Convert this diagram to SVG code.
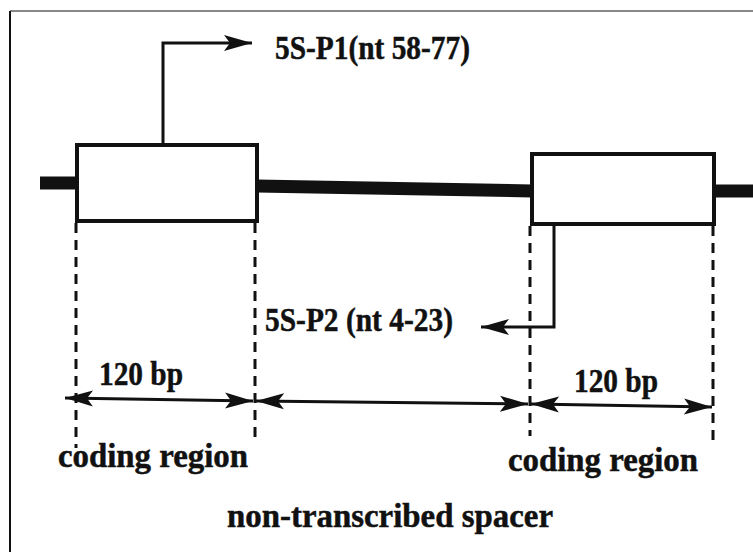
<svg xmlns="http://www.w3.org/2000/svg" width="753" height="552" viewBox="0 0 753 552">
  <style>
    .lbl { font-family: "Liberation Serif", "Times New Roman", serif; font-weight: bold; font-size: 34px; fill: #111; stroke: #111; stroke-width: 0.5; }
    .box { fill: #fff; stroke: #111; stroke-width: 4; }
    .dna { stroke: #111; stroke-width: 13; fill: none; }
    .dash { stroke: #111; stroke-width: 3; stroke-dasharray: 10 7; fill: none; }
    .arr { stroke: #111; stroke-width: 3; fill: none; }
  </style>
  <defs>
    <marker id="ah" markerUnits="userSpaceOnUse" markerWidth="30" markerHeight="20" viewBox="0 -10 30 20" refX="28" refY="0" orient="auto-start-reverse">
      <path d="M0,-8 L28,0 L0,8 L6,0 z" fill="#111"/>
    </marker>
  </defs>
  <rect x="0" y="0" width="753" height="552" fill="#fff"/>
  <g id="frame">
    <line x1="10" y1="11" x2="753" y2="11" stroke="#888" stroke-width="2"/>
    <line x1="10" y1="11" x2="10" y2="552" stroke="#111" stroke-width="2"/>
  </g>
  <g id="dna-strand">
    <line class="dna" x1="40" y1="183" x2="79" y2="183"/>
    <line class="dna" x1="257" y1="186" x2="532" y2="191"/>
    <line class="dna" x1="714" y1="191" x2="753" y2="191"/>
  </g>
  <g id="coding-box-1">
    <rect class="box" x="77" y="145" width="180" height="76"/>
  </g>
  <g id="coding-box-2">
    <rect class="box" x="532" y="154" width="182" height="70"/>
  </g>
  <g id="connectors">
    <line class="dash" x1="76" y1="223" x2="76" y2="448"/>
    <line class="dash" x1="255" y1="223" x2="255" y2="440"/>
    <line class="dash" x1="530" y1="226" x2="530" y2="436"/>
    <line class="dash" x1="713" y1="226" x2="713" y2="447"/>
    <path class="arr" d="M163,145 V43 H252" marker-end="url(#ah)"/>
    <path class="arr" d="M554,226 V327 H481" marker-end="url(#ah)"/>
    <line class="arr" x1="65" y1="398" x2="253" y2="401" marker-start="url(#ah)" marker-end="url(#ah)"/>
    <line class="arr" x1="256" y1="401" x2="528" y2="404" marker-start="url(#ah)" marker-end="url(#ah)"/>
    <line class="arr" x1="531" y1="404" x2="712" y2="407" marker-start="url(#ah)" marker-end="url(#ah)"/>
  </g>
  <g id="labels">
    <text class="lbl" x="275" y="59" textLength="195" lengthAdjust="spacingAndGlyphs">5S-P1(nt 58-77)</text>
    <text class="lbl" x="265" y="331" textLength="188" lengthAdjust="spacingAndGlyphs">5S-P2 (nt 4-23)</text>
    <text class="lbl" x="99" y="385" textLength="84" lengthAdjust="spacingAndGlyphs">120 bp</text>
    <text class="lbl" x="574" y="392" textLength="84" lengthAdjust="spacingAndGlyphs">120 bp</text>
    <text class="lbl" x="58" y="467" textLength="190" lengthAdjust="spacingAndGlyphs">coding region</text>
    <text class="lbl" x="508" y="471" textLength="190" lengthAdjust="spacingAndGlyphs">coding region</text>
    <text class="lbl" x="227" y="527" textLength="326" lengthAdjust="spacingAndGlyphs">non-transcribed spacer</text>
  </g>
</svg>
